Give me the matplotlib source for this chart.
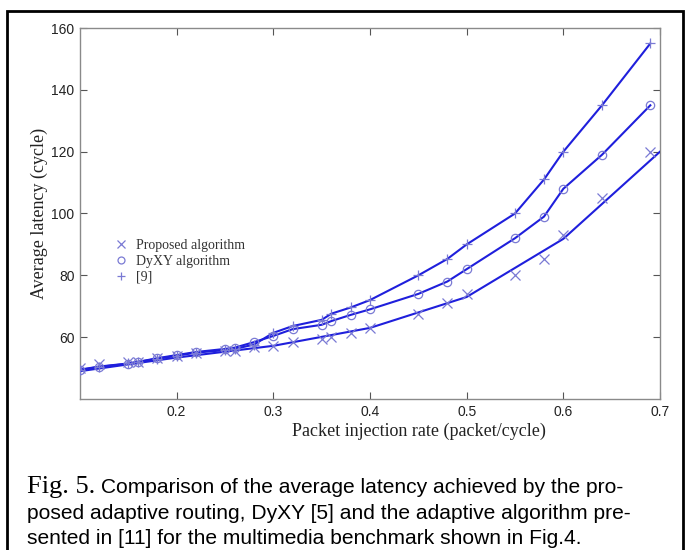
import matplotlib
matplotlib.use("Agg")
import matplotlib.pyplot as plt
from matplotlib.patches import Rectangle
from matplotlib.lines import Line2D

# ---- data ----
rate = [0.10, 0.12, 0.15, 0.16, 0.18, 0.20, 0.22, 0.25, 0.26, 0.28, 0.30,
        0.32, 0.35, 0.36, 0.38, 0.40, 0.45, 0.48, 0.50, 0.55, 0.58, 0.60,
        0.64, 0.69]
proposed = [50, 51.3, 52, 52, 53.2, 54, 54.8, 55.5, 55.5, 56.8, 57.2,
            58.4, 59.4, 60, 61.4, 63, 67.5, 71, 74, 80, 85.3, 93,
            105, 120]
dyxy = [49.4, 50.4, 51.4, 52, 53.2, 54.2, 55.2, 56.2, 56.6, 58.4, 60.4,
        62.6, 64, 65.2, 67.2, 69, 74, 78, 82, 92, 99, 108,
        119, 135]
ref9 = [49.5, 50.5, 51.5, 52, 53, 54, 55, 55.8, 56.2, 57.6, 61.4,
        63.6, 65.6, 67.6, 69.6, 72, 80, 85.3, 90, 100, 111, 120,
        135, 155]
# fitted curve drawn for the proposed algorithm
fit_rate = [0.10, 0.20, 0.30, 0.40, 0.50, 0.60, 0.70]
fit_proposed = [49, 53.4, 57.2, 63, 73, 91.8, 120]

labels = ["Proposed algorithm", "DyXY algorithm", "[9]"]
xticks = [0.2, 0.3, 0.4, 0.5, 0.6, 0.7]
yticks = [60, 80, 100, 120, 140, 160]
xlabel = "Packet injection rate (packet/cycle)"
ylabel = "Average latency (cycle)"
caption_head = "Fig. 5."
caption_lines = [" Comparison of the average latency achieved by the pro-",
                 "posed adaptive routing, DyXY [5] and the adaptive algorithm pre-",
                 "sented in [11] for the multimedia benchmark shown in Fig.4."]

# ---- style ----
W, H = 686, 550
fig = plt.figure(figsize=(W / 100, H / 100), dpi=100)
ax = fig.add_axes([80 / W, 1 - 399 / H, 580 / W, 371 / H])

line_c = "#1f1fdc"
mark_c = "#7a7ad4"

ax.plot(fit_rate, fit_proposed, color=line_c, lw=1.5, zorder=3)
ax.plot(rate, dyxy, color=line_c, lw=1.5, zorder=3)
ax.plot(rate, ref9, color=line_c, lw=1.5, zorder=3)
ax.plot(rate, proposed, ls="none", marker="x", ms=6.5, mew=0.9, color=mark_c, zorder=4)
ax.plot(rate, dyxy, ls="none", marker="o", ms=6, mew=0.9, mfc="none", color=mark_c, zorder=4)
ax.plot(rate, ref9, ls="none", marker="+", ms=7, mew=0.9, color=mark_c, zorder=4)

ax.set_xlim(0.1, 0.7)
ax.set_ylim(40, 160)
ax.set_xticks(xticks)
ax.set_yticks(yticks)
ax.set_xticklabels([f"{t:.1f}" for t in xticks], family="Liberation Sans", fontsize=10, color="#222222")
ax.set_yticklabels([str(t) for t in yticks], family="Liberation Sans", fontsize=10, color="#222222")
ax.tick_params(direction="in", length=5, width=0.8, color="#555555", top=True, right=True, pad=4)
for s in ax.spines.values():
    s.set_color("#8a8a8a")
    s.set_linewidth(1.0)

ax.set_xlabel(xlabel, family="Liberation Serif", fontsize=13, color="#222222", labelpad=3)
ax.xaxis.label.set_x(0.584)
ax.set_ylabel(ylabel, family="Liberation Serif", fontsize=13, color="#222222", labelpad=2)

handles = [Line2D([], [], ls="none", marker="x", ms=5.5, mew=0.9, color=mark_c),
           Line2D([], [], ls="none", marker="o", ms=5, mew=0.9, mfc="none", color=mark_c),
           Line2D([], [], ls="none", marker="+", ms=6, mew=0.9, color=mark_c)]
leg = ax.legend(handles, labels, loc="upper left", bbox_to_anchor=(0.039, 0.464),
                frameon=False, handlelength=0.8, handletextpad=0.7, labelspacing=0.2,
                prop={"family": "Liberation Serif", "size": 10})
for t in leg.get_texts():
    t.set_color("#333333")

# outer frame
fig.patches.append(Rectangle((7 / W, -0.1), (683 - 7) / W, 1.1 - 11 / H,
                             transform=fig.transFigure, fill=False,
                             edgecolor="black", lw=2.0))

# caption
x0 = 27 / W
baselines = [493, 519, 544]
fig.canvas.draw()
r = fig.canvas.get_renderer()
th = fig.text(x0, 1 - baselines[0] / H, caption_head, family="Liberation Serif",
              fontsize=19, va="baseline", ha="left", color="black")
ext = th.get_window_extent(renderer=r)
fig.text(ext.x1 / W, 1 - baselines[0] / H, caption_lines[0], family="Liberation Sans",
         fontsize=15.1, va="baseline", ha="left", color="black")
for ln, b in zip(caption_lines[1:], baselines[1:]):
    fig.text(x0, 1 - b / H, ln, family="Liberation Sans", fontsize=15.1,
             va="baseline", ha="left", color="black")

fig.savefig("out.png", dpi=100)
